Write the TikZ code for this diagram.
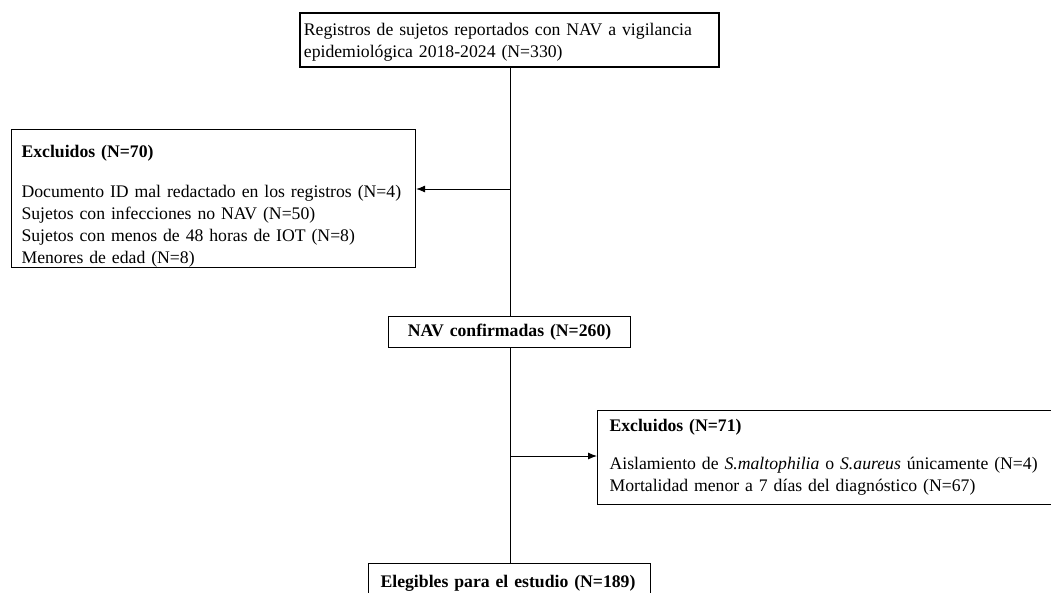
\documentclass[tikz,border=0pt]{standalone}
\usepackage{fontspec}
\setmainfont{Liberation Serif}
\usetikzlibrary{arrows.meta}

\begin{document}
\begin{tikzpicture}[x=1pt,y=-1pt,
    flowbox/.style={draw, line width=1.1pt, anchor=north west, align=left,
        inner xsep=12pt, inner ysep=0pt, font=\fontsize{17.7}{22}\selectfont},
    link/.style={line width=0.9pt},
    linkarrow/.style={link, -{Latex[length=9pt,width=7pt]}}]
    % Fix the frame of the picture
    \useasboundingbox (0,0) rectangle (1051,592);

    % Boxes of the flow chart
    \node[flowbox, line width=1.8pt, inner xsep=4pt, text width=411pt, minimum height=54pt]
        (regs) at (299,12) {\rule{0pt}{17pt}Registros de sujetos reportados con NAV a vigilancia\\
        epidemiológica 2018-2024 (N=330)};
    \node[flowbox, inner xsep=10pt, text width=384pt, minimum height=133pt]
        (excl1) at (11,129) {\rule{0pt}{28pt}\textbf{Excluidos (N=70)}\\[18pt]
        Documento ID mal redactado en los registros (N=4)\\
        Sujetos con infecciones no NAV (N=50)\\
        Sujetos con menos de 48 horas de IOT (N=8)\\
        Menores de edad (N=8)};
    \node[flowbox, align=center, inner xsep=0pt, text width=242pt, minimum height=31pt]
        (conf) at (388,316) {\textbf{NAV confirmadas (N=260)}};
    \node[flowbox, text width=460pt, minimum height=94pt]
        (excl2) at (597,410) {\textbf{Excluidos (N=71)}\\[16pt]
        Aislamiento de \textit{S.maltophilia} o \textit{S.aureus} únicamente (N=4)\\
        Mortalidad menor a 7 días del diagnóstico (N=67)};
    \node[flowbox, text width=258pt, minimum height=40pt]
        (elig) at (368,563) {\textbf{Elegibles para el estudio (N=189)}\\[4pt]};

    % Main vertical line and branching arrows
    \coordinate (split1) at (510,189);
    \coordinate (split2) at (510,456);
    \draw[link] (regs.south -| split1) -- (conf.north -| split1);
    \draw[link] (conf.south -| split2) -- (elig.north -| split2);
    \draw[linkarrow] (split1) -- (split1 -| excl1.east);
    \draw[linkarrow] (split2) -- (split2 -| excl2.west);
\end{tikzpicture}
\end{document}
